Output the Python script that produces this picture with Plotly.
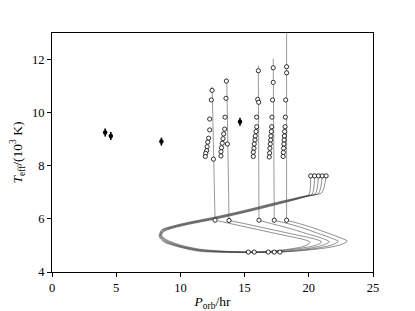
import plotly.graph_objects as go

# ---------------- data ----------------
obs_P = [4.14, 4.58, 8.52, 14.64]
obs_T = [9.25, 9.12, 8.91, 9.66]
obs_err = [0.15, 0.15, 0.15, 0.15]

# evolutionary tracks: loop part (start circle -> bundle -> loop -> end circle)
t1_P = [20.15, 20.00, 19.50, 17.50, 15.00, 12.70, 10.80, 9.40, 8.70, 8.55, 8.90, 9.90, 11.50, 13.50, 15.29, 17.00, 18.60, 19.70, 20.10, 19.70, 18.00, 16.00, 14.30, 12.70]
t1_T = [7.62, 6.90, 6.80, 6.54, 6.24, 5.99, 5.81, 5.65, 5.52, 5.38, 5.22, 5.03, 4.86, 4.78, 4.75, 4.78, 4.87, 4.98, 5.12, 5.21, 5.39, 5.60, 5.78, 5.95]
t2_P = [20.45, 20.25, 19.60, 17.50, 15.00, 12.70, 10.80, 9.40, 8.65, 8.50, 8.85, 9.90, 11.50, 13.50, 15.75, 17.50, 19.20, 20.50, 21.00, 20.55, 18.80, 16.80, 15.20, 13.79]
t2_T = [7.62, 6.92, 6.82, 6.56, 6.26, 6.01, 5.83, 5.67, 5.53, 5.37, 5.20, 5.00, 4.84, 4.77, 4.75, 4.79, 4.88, 5.00, 5.13, 5.23, 5.42, 5.63, 5.80, 5.94]
t3_P = [20.75, 20.50, 19.70, 17.50, 15.00, 12.70, 10.80, 9.40, 8.62, 8.45, 8.80, 9.90, 11.50, 13.60, 16.84, 18.50, 20.00, 21.10, 21.60, 21.15, 19.80, 18.30, 17.10, 16.12]
t3_T = [7.62, 6.94, 6.84, 6.58, 6.28, 6.03, 5.85, 5.69, 5.55, 5.36, 5.18, 4.98, 4.82, 4.76, 4.75, 4.80, 4.89, 5.01, 5.14, 5.25, 5.45, 5.67, 5.82, 5.95]
t4_P = [21.05, 20.75, 19.80, 17.50, 15.00, 12.70, 10.80, 9.40, 8.58, 8.40, 8.75, 9.90, 11.50, 13.70, 17.31, 19.20, 20.80, 21.80, 22.30, 21.85, 20.70, 19.40, 18.30, 17.31]
t4_T = [7.62, 6.96, 6.86, 6.60, 6.30, 6.05, 5.87, 5.71, 5.57, 5.35, 5.16, 4.96, 4.80, 4.75, 4.75, 4.81, 4.91, 5.02, 5.15, 5.26, 5.46, 5.68, 5.83, 5.95]
t5_P = [21.35, 21.00, 19.90, 17.50, 15.00, 12.70, 10.80, 9.40, 8.55, 8.35, 8.70, 9.90, 11.50, 13.80, 17.75, 19.80, 21.50, 22.50, 23.00, 22.55, 21.50, 20.30, 19.20, 18.27]
t5_T = [7.62, 6.98, 6.88, 6.62, 6.32, 6.07, 5.89, 5.73, 5.59, 5.34, 5.14, 4.94, 4.78, 4.74, 4.75, 4.82, 4.92, 5.03, 5.16, 5.27, 5.46, 5.67, 5.83, 5.95]

# vertical branches (end circle -> top)
v1_P = [12.70, 12.47]; v1_T = [5.95, 10.98]
v2_P = [13.79, 13.61]; v2_T = [5.94, 11.29]
v3_P = [16.12, 16.07]; v3_T = [5.95, 11.78]
v4_P = [17.31, 17.23]; v4_T = [5.95, 12.04]
v5_P = [18.27, 18.27]; v5_T = [5.95, 13.60]

# open-circle model points
s1_P = [12.47, 12.41, 12.28, 12.28, 12.20, 12.13, 12.08, 12.05, 11.97, 11.94, 12.57]
s1_T = [10.84, 10.48, 9.76, 9.35, 9.04, 8.89, 8.72, 8.57, 8.47, 8.35, 8.25]
s2_P = [13.58, 13.55, 13.48, 13.45, 13.37, 13.32, 13.26, 13.66, 13.20, 13.16, 13.16]
s2_T = [11.19, 10.54, 9.83, 9.38, 9.20, 9.02, 8.85, 8.82, 8.68, 8.53, 8.37]
s3_P = [16.07, 16.02, 16.10, 15.94, 15.94, 15.89, 15.83, 15.81, 15.75, 15.73, 15.68, 15.68]
s3_T = [11.58, 10.50, 10.39, 9.83, 9.47, 9.29, 9.12, 8.97, 8.82, 8.66, 8.51, 8.35]
s4_P = [17.23, 17.23, 17.18, 17.13, 17.11, 17.08, 17.05, 17.03, 17.00, 16.97, 16.95, 16.92]
s4_T = [11.69, 11.14, 10.48, 9.83, 9.47, 9.29, 9.12, 8.97, 8.82, 8.66, 8.48, 8.33]
s5_P = [18.27, 18.27, 18.20, 18.17, 18.15, 18.12, 18.10, 18.08, 18.06, 18.04, 18.02, 18.00]
s5_T = [11.73, 11.50, 10.48, 9.83, 9.47, 9.29, 9.12, 8.97, 8.82, 8.66, 8.50, 8.35]

start_P = [20.15, 20.45, 20.75, 21.05, 21.35]
start_T = [7.62, 7.62, 7.62, 7.62, 7.62]
end_P = [12.70, 13.79, 16.12, 17.31, 18.27]
end_T = [5.95, 5.94, 5.95, 5.95, 5.95]
bot_P = [15.29, 15.75, 16.84, 17.31, 17.75]
bot_T = [4.75, 4.75, 4.75, 4.75, 4.75]

x_ticks = [0, 5, 10, 15, 20, 25]
y_ticks = [4, 6, 8, 10, 12]

# ---------------- figure ----------------
fig = go.Figure()

for P, T in [(t1_P, t1_T), (t2_P, t2_T), (t3_P, t3_T), (t4_P, t4_T), (t5_P, t5_T)]:
    fig.add_trace(go.Scatter(x=P, y=T, mode="lines",
                             line=dict(color="#333333", width=0.55, shape="spline", smoothing=0.8),
                             hoverinfo="skip"))
for P, T in [(v1_P, v1_T), (v2_P, v2_T), (v3_P, v3_T), (v4_P, v4_T), (v5_P, v5_T)]:
    fig.add_trace(go.Scatter(x=P, y=T, mode="lines",
                             line=dict(color="#555555", width=0.6), hoverinfo="skip"))

CIRC = dict(symbol="circle", size=4.2, color="white", line=dict(color="black", width=0.8))
for P, T in [(s1_P, s1_T), (s2_P, s2_T), (s3_P, s3_T), (s4_P, s4_T), (s5_P, s5_T),
             (start_P, start_T), (end_P, end_T), (bot_P, bot_T)]:
    fig.add_trace(go.Scatter(x=P, y=T, mode="markers", marker=CIRC))

fig.add_trace(go.Scatter(x=obs_P, y=obs_T, mode="markers",
                         marker=dict(symbol="circle", size=4.5, color="black"),
                         error_y=dict(type="data", array=obs_err, visible=True,
                                      color="black", thickness=1.6, width=0)))

FONT = dict(family="Liberation Serif, DejaVu Serif, serif", size=12.5, color="black")
fig.update_layout(
    width=407, height=303,
    margin=dict(l=44, r=42, t=25, b=39),
    paper_bgcolor="white", plot_bgcolor="white",
    showlegend=False,
    font=FONT,
    xaxis=dict(range=[0, 25], tickvals=x_ticks, ticks="outside", ticklen=4,
               tickcolor="black", showline=True, linecolor="black", linewidth=1,
               mirror=True, showgrid=False, zeroline=False, automargin=False,
               title=dict(text="<i>P</i><sub>orb</sub>/hr", standoff=2,
                          font=dict(family=FONT["family"], size=13.5))),
    yaxis=dict(range=[4, 13], tickvals=y_ticks, ticks="outside", ticklen=4,
               tickcolor="black", showline=True, linecolor="black", linewidth=1,
               mirror=True, showgrid=False, zeroline=False, automargin=False,
               title=dict(text="<i>T</i><sub>eff</sub>/(10<sup>3</sup> K)", standoff=6,
                          font=dict(family=FONT["family"], size=13.5))),
)

fig.write_html("out.html")
